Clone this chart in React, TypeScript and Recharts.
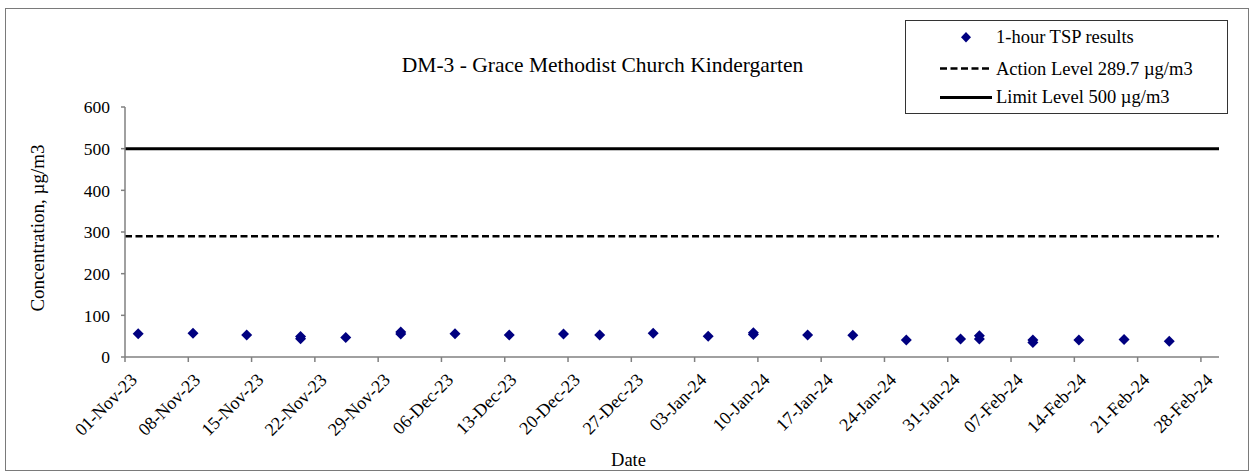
import React from 'react';
import { ScatterChart, Scatter, XAxis, YAxis, ReferenceLine } from 'recharts';

const FONT = '"Liberation Serif", "Times New Roman", Times, serif';

const TITLE = 'DM-3 - Grace Methodist Church Kindergarten';
const Y_LABEL = 'Concentration, µg/m3';
const X_LABEL = 'Date';
const SERIES_NAME = '1-hour TSP results';
const ACTION_NAME = 'Action Level 289.7 µg/m3';
const LIMIT_NAME = 'Limit Level 500 µg/m3';
const ACTION_LEVEL = 289.7;
const LIMIT_LEVEL = 500;

const AXIS_START = '2023-11-01T00:00:00Z';
const AXIS_END = '2024-03-01T00:00:00Z';

const X_TICK_DATES = [
  '2023-11-01', '2023-11-08', '2023-11-15', '2023-11-22', '2023-11-29',
  '2023-12-06', '2023-12-13', '2023-12-20', '2023-12-27', '2024-01-03',
  '2024-01-10', '2024-01-17', '2024-01-24', '2024-01-31', '2024-02-07',
  '2024-02-14', '2024-02-21', '2024-02-28',
];
const X_TICK_LABELS = [
  '01-Nov-23', '08-Nov-23', '15-Nov-23', '22-Nov-23', '29-Nov-23',
  '06-Dec-23', '13-Dec-23', '20-Dec-23', '27-Dec-23', '03-Jan-24',
  '10-Jan-24', '17-Jan-24', '24-Jan-24', '31-Jan-24', '07-Feb-24',
  '14-Feb-24', '21-Feb-24', '28-Feb-24',
];
const Y_TICKS = [0, 100, 200, 300, 400, 500, 600];

const SAMPLE_TIMES = [
  '2023-11-02T11:00', '2023-11-08T12:30', '2023-11-14T11:00', '2023-11-20T10:00',
  '2023-11-20T10:00', '2023-11-25T10:00', '2023-12-01T12:00', '2023-12-01T12:00',
  '2023-12-07T12:00', '2023-12-13T12:00', '2023-12-19T12:00', '2023-12-23T12:00',
  '2023-12-29T10:00', '2024-01-04T12:00', '2024-01-09T12:00', '2024-01-09T12:00',
  '2024-01-15T12:00', '2024-01-20T12:00', '2024-01-26T10:00', '2024-02-01T10:00',
  '2024-02-03T12:00', '2024-02-03T12:00', '2024-02-09T10:00', '2024-02-09T10:00',
  '2024-02-14T12:00', '2024-02-19T12:00', '2024-02-24T12:00',
];
const TSP_VALUES = [
  56, 57, 53, 49,
  44, 47, 60, 55,
  56, 53, 55, 53,
  57, 50, 58, 54,
  53, 52, 41, 43,
  51, 43, 41, 35,
  41, 42, 38,
];

const DAY_MS = 86400000;
const toMs = (s: string) => Date.parse(s.length === 10 ? s + 'T00:00:00Z' : s.length === 16 ? s + ':00Z' : s);
const dayOffset = (s: string) => (toMs(s) - toMs(AXIS_START)) / DAY_MS;

const TOTAL_DAYS = dayOffset(AXIS_END);
const X_TICKS = X_TICK_DATES.map(dayOffset);
const data = SAMPLE_TIMES.map((t, i) => ({ x: dayOffset(t), y: TSP_VALUES[i] }));

const NAVY = '#000080';
const AXIS_GRAY = '#808080';

const Diamond = (props: any) => {
  const { cx, cy } = props;
  const r = 5.5;
  return (
    <polygon
      points={`${cx},${cy - r} ${cx + r},${cy} ${cx},${cy + r} ${cx - r},${cy}`}
      fill={NAVY}
    />
  );
};

const XTick = (props: any) => {
  const { x, y, index } = props;
  const bx = x + 13;
  const by = y + 19;
  return (
    <text
      x={bx}
      y={by}
      transform={`rotate(-45, ${bx}, ${by})`}
      textAnchor="end"
      fontFamily={FONT}
      fontSize={18}
      fill="#000"
    >
      {X_TICK_LABELS[index]}
    </text>
  );
};

export default function App() {
  return (
    <div style={{ position: 'absolute', left: 0, top: 0, width: 1253, height: 473, background: '#fff' }}>
      <ScatterChart width={1253} height={473} margin={{ top: 107, right: 34, bottom: 0, left: 0 }}>
        <XAxis
          type="number"
          dataKey="x"
          domain={[0, TOTAL_DAYS]}
          ticks={X_TICKS}
          interval={0}
          height={116}
          tickSize={5}
          tickMargin={0}
          axisLine={{ stroke: AXIS_GRAY, strokeWidth: 1.5 }}
          tickLine={{ stroke: AXIS_GRAY, strokeWidth: 1.5 }}
          tick={<XTick />}
          allowDataOverflow
        />
        <YAxis
          type="number"
          dataKey="y"
          domain={[0, 600]}
          ticks={Y_TICKS}
          interval={0}
          width={125}
          tickSize={4}
          tickMargin={11}
          axisLine={{ stroke: AXIS_GRAY, strokeWidth: 1.5 }}
          tickLine={{ stroke: AXIS_GRAY, strokeWidth: 1.5 }}
          tick={{ fill: '#000', fontSize: 17.5, fontFamily: FONT }}
        />
        <ReferenceLine y={LIMIT_LEVEL} stroke="#000" strokeWidth={3} />
        <ReferenceLine y={ACTION_LEVEL} stroke="#000" strokeWidth={2.5} strokeDasharray="7 3.5" />
        <Scatter name={SERIES_NAME} data={data} fill={NAVY} shape={<Diamond />} isAnimationActive={false} />
      </ScatterChart>
      <svg
        width={1253}
        height={473}
        style={{ position: 'absolute', left: 0, top: 0, pointerEvents: 'none' }}
        fontFamily={FONT}
      >
        <rect x={5.5} y={8.5} width={1243} height={462} fill="none" stroke="#7a7a7a" strokeWidth={1} />
        <text x={602.5} y={71.5} textAnchor="middle" fontSize={21.5} fill="#000">{TITLE}</text>
        <text transform="translate(44,228) rotate(-90)" textAnchor="middle" fontSize={19} fill="#000">{Y_LABEL}</text>
        <text x={628.5} y={466} textAnchor="middle" fontSize={18.5} fill="#000">{X_LABEL}</text>
        <g transform="translate(905,20)">
          <rect x={0.5} y={0.5} width={322} height={93} fill="#fff" stroke="#333" strokeWidth={1} />
          <polygon points="61,12 66,17.3 61,22.6 56,17.3" fill={NAVY} />
          <text x={91} y={23} fontSize={18.5} fill="#000">{SERIES_NAME}</text>
          <line x1={35} y1={48.5} x2={87} y2={48.5} stroke="#000" strokeWidth={2.5} strokeDasharray="7 3.5" />
          <text x={91} y={55} fontSize={18.5} fill="#000">{ACTION_NAME}</text>
          <line x1={35} y1={77.5} x2={87} y2={77.5} stroke="#000" strokeWidth={3} />
          <text x={91} y={83} fontSize={18.5} fill="#000">{LIMIT_NAME}</text>
        </g>
      </svg>
    </div>
  );
}
